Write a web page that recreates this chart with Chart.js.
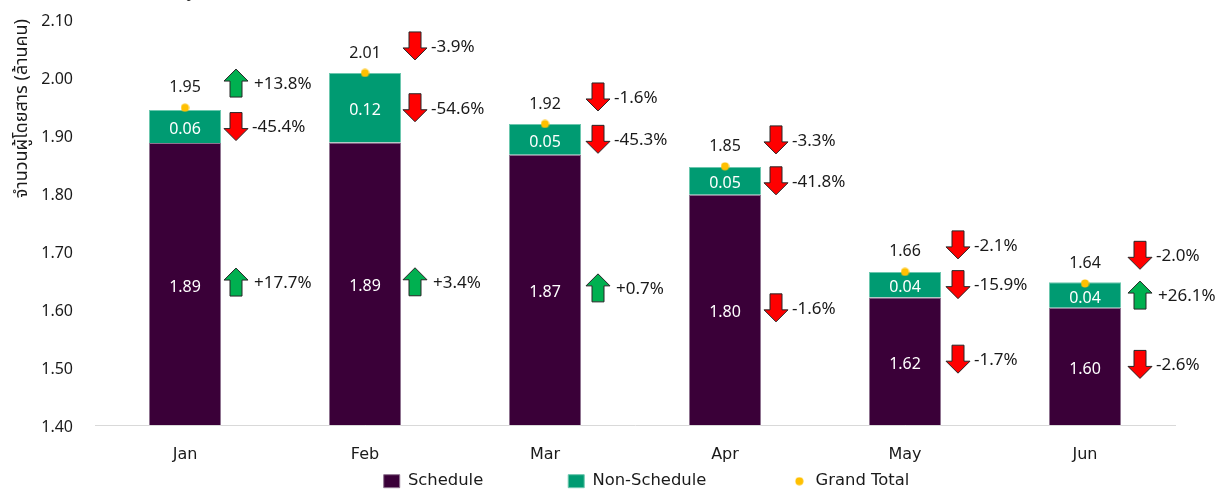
<!DOCTYPE html>
<html>
<head>
<meta charset="utf-8">
<title>จำนวนผู้โดยสาร</title>
<script src="https://cdn.jsdelivr.net/npm/chart.js@4/dist/chart.umd.min.js"></script>
<style>
  html, body { margin: 0; padding: 0; background: #fff; }
  canvas { display: block; }
</style>
</head>
<body>
<canvas id="chart" width="1227" height="489"></canvas>
<script>
// ข้อมูลจากกราฟ
const months = ['Jan', 'Feb', 'Mar', 'Apr', 'May', 'Jun'];
const schedule = [1.886, 1.887, 1.866, 1.797, 1.620, 1.602];
const nonSchedule = [0.057, 0.120, 0.053, 0.048, 0.044, 0.044];
const grandTotal = [1.947, 2.007, 1.919, 1.846, 1.664, 1.644];
const yTicks = [1.4, 1.5, 1.6, 1.7, 1.8, 1.9, 2.0, 2.1];

// % เปลี่ยนแปลง (ลูกศรข้างแท่ง)
const totalChange = [13.8, -3.9, -1.6, -3.3, -2.1, -2.0];
const nonScheduleChange = [-45.4, -54.6, -45.3, -41.8, -15.9, 26.1];
const scheduleChange = [17.7, 3.4, 0.7, -1.6, -1.7, -2.6];

const FONT = '"Noto Sans", "Noto Sans Thai", Tahoma, sans-serif';
const FONT_WIDE = '"DejaVu Sans", sans-serif';
const TEXT = '#1a1a1a';

// ระยะลูกศรจากกึ่งกลางแท่ง
const arrowOffsets = [51, 50, 53, 51, 53, 55];

function fmtChange(v) {
    return (v > 0 ? '+' : '-') + Math.abs(v).toFixed(1) + '%';
}

function drawArrow(ctx, x, y, up) {
    const dir = up ? -1 : 1;
    ctx.beginPath();
    ctx.moveTo(x, y + dir * 14);
    ctx.lineTo(x + 12, y + dir * 2);
    ctx.lineTo(x + 6, y + dir * 2);
    ctx.lineTo(x + 6, y - dir * 14);
    ctx.lineTo(x - 6, y - dir * 14);
    ctx.lineTo(x - 6, y + dir * 2);
    ctx.lineTo(x - 12, y + dir * 2);
    ctx.closePath();
    ctx.fillStyle = up ? '#00B050' : '#FF0000';
    ctx.fill();
    ctx.lineWidth = 1;
    ctx.strokeStyle = '#262626';
    ctx.stroke();
}

// จุด Grand Total ใน legend มีขนาดเล็กกว่าสี่เหลี่ยม
const legendDot = document.createElement('canvas');
legendDot.width = 9;
legendDot.height = 9;
const dotCtx = legendDot.getContext('2d');
dotCtx.fillStyle = '#FFC000';
dotCtx.arc(4.5, 4.5, 4, 0, Math.PI * 2);
dotCtx.fill();

// ป้ายค่าและลูกศร
const annotations = {
    id: 'annotations',
    afterDatasetsDraw(chart) {
        const ctx = chart.ctx;
        const x = chart.scales.x;
        const y = chart.scales.y;
        ctx.save();
        ctx.textBaseline = 'middle';

        months.forEach((m, i) => {
            const cx = x.getPixelForValue(i);
            const scheduleTop = y.getPixelForValue(schedule[i]);
            const barTop = y.getPixelForValue(schedule[i] + nonSchedule[i]);
            const scheduleMid = (scheduleTop + y.bottom) / 2;
            const nonMid = (scheduleTop + barTop) / 2;
            const dotY = y.getPixelForValue(grandTotal[i]);

            ctx.font = '16px ' + FONT;
            ctx.textAlign = 'center';
            ctx.fillStyle = '#fff';
            ctx.fillText(schedule[i].toFixed(2), cx, scheduleMid + 3);
            ctx.fillText(nonSchedule[i].toFixed(2), cx, nonMid + 3);
            ctx.fillStyle = TEXT;
            ctx.fillText(grandTotal[i].toFixed(2), cx, dotY - 20);

            const ax = cx + arrowOffsets[i];
            const rows = [
                [totalChange[i], barTop - 27],
                [nonScheduleChange[i], nonMid],
                [scheduleChange[i], scheduleMid - 2]
            ];
            ctx.font = '17px ' + FONT;
            ctx.textAlign = 'left';
            rows.forEach(([v, ay]) => {
                drawArrow(ctx, ax, ay, v > 0);
                ctx.fillStyle = TEXT;
                ctx.fillText(fmtChange(v), ax + (v > 0 ? 18 : 16), ay + 1);
            });
        });

        // ชื่อกราฟถูกตัดขอบบน เหลือแค่สระล่าง
        ctx.textAlign = 'center';
        ctx.font = '16px ' + FONT;
        ctx.fillStyle = TEXT;
        ctx.fillText('ผู้', 187, -8);
        ctx.restore();
    }
};

// legend: ช่องไฟกว้าง ต้องจัดตำแหน่งเอง
const legendLayout = {
    id: 'legendLayout',
    beforeInit(chart) {
        const fit = chart.legend.fit;
        chart.legend.fit = function () {
            fit.call(this);
            this.height = 25;
        };
    },
    beforeDraw(chart) {
        const legend = chart.legend;
        legend.top = 388;
        legend.left = 33;
        legend.right = 1260;
    }
};

new Chart(document.getElementById('chart'), {
    type: 'bar',
    data: {
        labels: months,
        datasets: [
            {
                label: 'Schedule',
                data: schedule,
                backgroundColor: '#3A0038',
                borderColor: '#8F7390',
                borderWidth: 1,
                barPercentage: 0.4,
                categoryPercentage: 1,
                pointStyle: 'rect',
                order: 2
            },
            {
                label: 'Non-Schedule',
                data: nonSchedule,
                backgroundColor: '#009B72',
                borderColor: '#6CC7AE',
                borderWidth: 1,
                barPercentage: 0.4,
                categoryPercentage: 1,
                pointStyle: 'rect',
                order: 2
            },
            {
                label: 'Grand Total',
                type: 'line',
                data: grandTotal,
                showLine: false,
                backgroundColor: '#FFC000',
                borderColor: '#FFC000',
                pointRadius: 4,
                pointStyle: legendDot,
                order: 1
            }
        ]
    },
    options: {
        responsive: false,
        animation: false,
        layout: { padding: { left: 11, right: 52, top: 19, bottom: 0 } },
        scales: {
            x: {
                stacked: true,
                grid: { display: false },
                border: { color: '#D9D9D9', width: 1 },
                ticks: { color: TEXT, font: { family: FONT_WIDE, size: 16 }, padding: 12, maxRotation: 0 },
                afterFit(scale) { scale.height = 39; }
            },
            y: {
                stacked: true,
                min: 1.4,
                max: 2.1,
                grid: { display: false },
                border: { display: false },
                afterBuildTicks(scale) { scale.ticks = yTicks.map(v => ({ value: v })); },
                afterFit(scale) {
                    scale.width = 84;
                    scale.paddingTop = 0;
                    scale.paddingBottom = 0;
                },
                ticks: {
                    color: TEXT,
                    font: { family: FONT, size: 16 },
                    padding: 14,
                    labelOffset: 2,
                    callback: v => v.toFixed(2)
                },
                title: {
                    display: true,
                    text: 'จำนวนผู้โดยสาร (ล้านคน)',
                    align: 'end',
                    color: TEXT,
                    font: { family: FONT, size: 18 },
                    padding: 0
                }
            }
        },
        plugins: {
            tooltip: { enabled: false },
            legend: {
                position: 'bottom',
                labels: {
                    usePointStyle: true,
                    boxHeight: 13,
                    pointStyleWidth: 16,
                    padding: 85,
                    color: TEXT,
                    font: { family: FONT_WIDE, size: 16.4 },
                    sort: (a, b) => a.datasetIndex - b.datasetIndex
                }
            }
        }
    },
    plugins: [annotations, legendLayout]
});
</script>
</body>
</html>
